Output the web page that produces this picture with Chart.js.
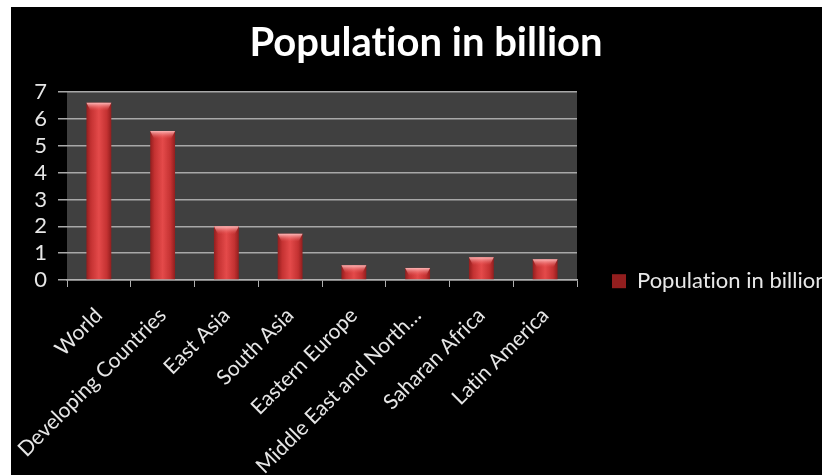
<!DOCTYPE html>
<html>
<head>
<meta charset="utf-8">
<title>Population in billion</title>
<script src="https://cdn.jsdelivr.net/npm/chart.js@4/dist/chart.umd.min.js"></script>
<style>
  html, body { margin: 0; padding: 0; background: #ffffff; overflow: hidden; }
  #wrap { position: absolute; left: 11px; top: 7px; width: 811px; height: 468px; background: #000000; }
  canvas { display: block; }
</style>
</head>
<body>
<div id="wrap"><canvas id="chart" width="811" height="468"></canvas></div>
<script>
// Regions shown on the category axis
const categories = [
  'World',
  'Developing Countries',
  'East Asia',
  'South Asia',
  'Eastern Europe',
  'Middle East and North…',
  'Saharan Africa',
  'Latin America'
];

// Population per region, in billions
const population = [6.6, 5.55, 2.0, 1.72, 0.55, 0.45, 0.85, 0.77];

// Value axis ticks
const yTicks = [0, 1, 2, 3, 4, 5, 6, 7];

const seriesName = 'Population in billion';

const CATEGORY_PCT = 0.78;
const BAR_PCT = 0.5;

// Plain glyphs (no ligatures) and dark grey fill behind the plotting area
const plotBackground = {
  id: 'plotBackground',
  beforeDraw(chart) {
    const { ctx, chartArea } = chart;
    ctx.textRendering = 'optimizeSpeed';
    if (!chartArea) return;
    ctx.save();
    ctx.fillStyle = '#404040';
    ctx.fillRect(chartArea.left, chartArea.top, chartArea.right - chartArea.left, chartArea.bottom - chartArea.top);
    ctx.restore();
  }
};

// Light bevel on the top of each column
const columnCaps = {
  id: 'columnCaps',
  afterDatasetsDraw(chart) {
    const { ctx } = chart;
    const meta = chart.getDatasetMeta(0);
    ctx.save();
    meta.data.forEach(bar => {
      const { x, y, width } = bar.getProps(['x', 'y', 'width'], true);
      const l = x - width / 2, r = x + width / 2;
      const g = ctx.createLinearGradient(0, y, 0, y + 8);
      g.addColorStop(0, 'rgba(255,190,190,0.95)');
      g.addColorStop(1, 'rgba(235,90,90,0.0)');
      ctx.fillStyle = g;
      ctx.beginPath();
      ctx.moveTo(l, y);
      ctx.lineTo(r, y);
      ctx.lineTo(r - 4, y + 8);
      ctx.lineTo(l + 4, y + 8);
      ctx.closePath();
      ctx.fill();
    });
    ctx.restore();
  }
};

// Cylinder-like shading across each column
function columnFill(context) {
  const chart = context.chart;
  const xs = chart.scales && chart.scales.x;
  if (context.type !== 'data' || !chart.chartArea || !xs) return '#d94848';
  const cx = xs.getPixelForValue(context.dataIndex);
  const cw = (xs.right - xs.left) / categories.length;
  const half = cw * CATEGORY_PCT * BAR_PCT / 2;
  const g = chart.ctx.createLinearGradient(cx - half, 0, cx + half, 0);
  g.addColorStop(0, '#921e1e');
  g.addColorStop(0.18, '#c43232');
  g.addColorStop(0.5, '#e44a4a');
  g.addColorStop(0.82, '#c43232');
  g.addColorStop(1, '#921e1e');
  return g;
}

function draw() {
  Chart.defaults.font.family = 'Lato, "Open Sans", sans-serif';
  new Chart(document.getElementById('chart'), {
    type: 'bar',
    data: {
      labels: categories,
      datasets: [{
        label: seriesName,
        data: population,
        backgroundColor: columnFill,
        borderWidth: 0,
        categoryPercentage: CATEGORY_PCT,
        barPercentage: BAR_PCT
      }]
    },
    options: {
      responsive: false,
      animation: false,
      layout: { padding: { left: 19, right: 0, top: 0, bottom: 0 } },
      plugins: {
        title: {
          display: true,
          text: 'Population in billion',
          color: '#ffffff',
          font: { size: 40, weight: 'bold' },
          padding: { top: 12, bottom: 25 }
        },
        legend: {
          display: true,
          position: 'right',
          maxWidth: 245,
          title: { display: true, text: ' ', font: { size: 2 }, padding: { top: 78, bottom: 0 } },
          labels: {
            color: '#e8e8e8',
            font: { size: 22 },
            boxWidth: 14,
            boxHeight: 14,
            padding: 35
          }
        },
        tooltip: { enabled: false }
      },
      scales: {
        x: {
          afterFit(scale) { scale.height = 195; },
          grid: {
            offset: true,
            drawOnChartArea: false,
            drawTicks: true,
            tickLength: 7,
            color: '#b0b0b0'
          },
          border: { display: true, color: '#b0b0b0', width: 1.5 },
          ticks: {
            autoSkip: false,
            minRotation: 45,
            maxRotation: 45,
            color: '#e6e6e6',
            font: { size: 21 },
            padding: 16
          }
        },
        y: {
          min: 0,
          max: 7,
          afterFit(scale) { scale.width = 37; },
          afterBuildTicks(scale) { scale.ticks = yTicks.map(v => ({ value: v })); },
          grid: {
            color: '#a8a8a8',
            lineWidth: 1.5,
            drawTicks: true,
            tickLength: 9
          },
          border: { display: false },
          ticks: {
            autoSkip: false,
            stepSize: 1,
            color: '#e6e6e6',
            font: { size: 22 },
            padding: 11
          }
        }
      }
    },
    plugins: [plotBackground, columnCaps]
  });
}

if (document.fonts && document.fonts.load) {
  Promise.all([
    document.fonts.load('22px Lato'),
    document.fonts.load('bold 40px Lato')
  ]).then(draw, draw);
} else {
  draw();
}
</script>
</body>
</html>
